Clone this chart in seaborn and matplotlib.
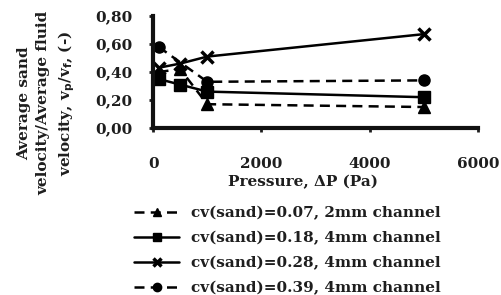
import pandas as pd
import matplotlib.pyplot as plt
import seaborn as sns

# data
p_007 = [100, 500, 1000, 5000]
v_007 = [0.40, 0.42, 0.17, 0.15]
p_018 = [100, 500, 1000, 5000]
v_018 = [0.35, 0.31, 0.26, 0.22]
p_028 = [100, 500, 1000, 5000]
v_028 = [0.43, 0.46, 0.51, 0.67]
p_039 = [100, 1000, 5000]
v_039 = [0.58, 0.33, 0.34]

labels = ["cv(sand)=0.07, 2mm channel",
          "cv(sand)=0.18, 4mm channel",
          "cv(sand)=0.28, 4mm channel",
          "cv(sand)=0.39, 4mm channel"]

sns.set_style("ticks")
plt.rcParams['font.family'] = ['DejaVu Serif']
plt.rcParams['font.weight'] = 'bold'
txt = '#1e1e1e'

fig = plt.figure(figsize=(5.02, 2.95), dpi=100)
ax = fig.add_axes([0.305, 0.566, 0.647, 0.380])

series = [(p_007, v_007, '^', (4, 2.5)),
          (p_018, v_018, 's', ''),
          (p_028, v_028, 'x', ''),
          (p_039, v_039, 'o', (4, 2.5))]

for (x, y, m, d), lab in zip(series, labels):
    df = pd.DataFrame({'p': x, 'v': y})
    ls = '-' if d == '' else (0, d)
    sns.lineplot(data=df, x='p', y='v', ax=ax, color='black', marker=m,
                 markersize=8, linewidth=1.8, linestyle=ls,
                 markeredgecolor='black', markeredgewidth=2.5 if m == 'x' else 1,
                 label=lab)

ax.set_xlim(0, 6000)
ax.set_ylim(0, 0.8)
ax.set_xticks([0, 2000, 4000, 6000])
ax.set_yticks([0, 0.2, 0.4, 0.6, 0.8])
ax.set_yticklabels(['0,00', '0,20', '0,40', '0,60', '0,80'])
ax.tick_params(labelsize=11, width=2, length=3, colors=txt)
ax.tick_params(axis='y', pad=12)
ax.tick_params(axis='x', pad=18)
for t in ax.get_xticklabels() + ax.get_yticklabels():
    t.set_fontweight('bold')
for s in ['left', 'bottom']:
    ax.spines[s].set_linewidth(3)
    ax.spines[s].set_color('#111111')
sns.despine(ax=ax)

ax.set_xlabel("Pressure, \u0394P (Pa)", fontsize=11, fontweight='bold',
              color=txt)
ax.xaxis.set_label_coords((303 - 153) / 325, (128 - 182) / 112)
ax.xaxis.label.set_va('center')
ax.set_ylabel("")
fig.text(47 / 502, 1 - 103 / 295,
         "Average sand\nvelocity/Average fluid\nvelocity, v$_\\mathbf{p}$/v$_\\mathbf{f}$, (-)",
         rotation=90, ha='center', va='center', multialignment='center',
         fontsize=11, fontweight='bold', color=txt, linespacing=1.45)

leg = ax.legend(loc='upper left', bbox_to_anchor=(128 / 502, 1 - 200 / 295),
                bbox_transform=fig.transFigure, frameon=False, fontsize=11,
                handlelength=2.95, labelspacing=0.7, handletextpad=0.8,
                borderaxespad=0, markerscale=0.75)
for t in leg.get_texts():
    t.set_color(txt)
    t.set_fontweight('bold')

fig.savefig("out.png", dpi=100)
